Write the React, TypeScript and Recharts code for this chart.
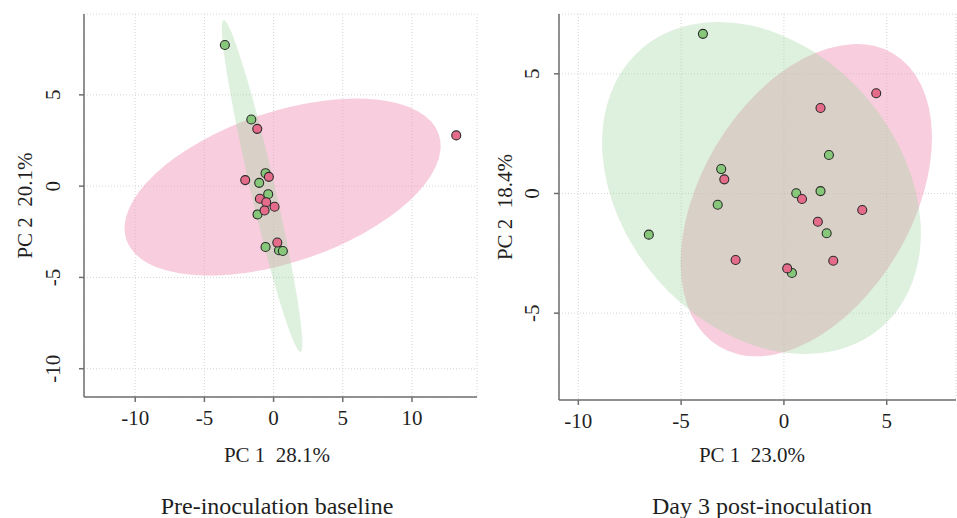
import React from "react";
import { CartesianGrid, Label, Scatter, ScatterChart, XAxis, YAxis } from "recharts";

// Two PCA score plots with 95% ellipses, drawn side by side.
const SERIF = '"Liberation Serif", "Times New Roman", serif';
const INK = "#1f1f1f";
const AXIS = "#6e6e6e";
const GRID = "#d4d4d4";
const PINK = "#e56b8a";
const GREEN = "#86c77a";
const PINK_FILL = "#f19bbb";
const GREEN_FILL = "#a3d5a3";

// --- Pre-inoculation baseline ---
const PRE_X_TICKS = [-10, -5, 0, 5, 10];
const PRE_Y_TICKS = [-10, -5, 0, 5];
const PRE_X_DOMAIN = [-13.7, 14.7];
const PRE_Y_DOMAIN = [-11.55, 9.43];
const PRE_GREEN_PC1 = [-3.52, -1.61, -0.58, -1.04, -0.39, -1.16, -0.58, 0.39, 0.67];
const PRE_GREEN_PC2 = [7.73, 3.65, 0.71, 0.18, -0.44, -1.55, -3.33, -3.51, -3.55];
const PRE_PINK_PC1 = [-1.18, 13.2, -0.34, -2.05, -0.99, -0.53, 0.07, -0.65, 0.27];
const PRE_PINK_PC2 = [3.14, 2.78, 0.51, 0.33, -0.69, -0.88, -1.13, -1.33, -3.09];
// ellipses: centre, end of one semi-axis, end of the other semi-axis
const PRE_GREEN_ELL_PC1 = [-0.83, -3.61, 0.03];
const PRE_GREEN_ELL_PC2 = [0.01, 9.1, 0.16];
const PRE_PINK_ELL_PC1 = [0.65, 11.94, 2.38];
const PRE_PINK_ELL_PC2 = [-0.05, 2.83, -3.95];

// --- Day 3 post-inoculation ---
const POST_X_TICKS = [-10, -5, 0, 5];
const POST_Y_TICKS = [-5, 0, 5];
const POST_X_DOMAIN = [-10.94, 8.37];
const POST_Y_DOMAIN = [-8.63, 7.5];
const POST_GREEN_PC1 = [-3.94, 2.19, -3.05, 0.6, 1.78, -3.22, 2.08, -6.57, 0.39];
const POST_GREEN_PC2 = [6.67, 1.61, 1.02, 0.01, 0.1, -0.47, -1.66, -1.72, -3.32];
const POST_PINK_PC1 = [4.49, 1.78, -2.9, 0.88, 3.81, 1.65, -2.35, 2.4, 0.16];
const POST_PINK_PC2 = [4.19, 3.57, 0.59, -0.23, -0.69, -1.18, -2.78, -2.81, -3.13];
const POST_GREEN_ELL_PC1 = [-1.09, 4.74, 4.02];
const POST_GREEN_ELL_PC2 = [0.23, -5.59, 4.01];
const POST_PINK_ELL_PC1 = [1.09, 5.31, 5.51];
const POST_PINK_ELL_PC2 = [-0.28, 5.85, -2.52];

const toPoints = (xs: number[], ys: number[]) => xs.map((x, i) => ({ x, y: ys[i] }));

// the three scaled points give centre + two conjugate semi-axes in pixels
function EllipseFill({ points, color, opacity }: any) {
  if (!points || points.length < 3 || points.some((p: any) => p.x == null || p.y == null)) {
    return null;
  }
  const [c, u, v] = points;
  return (
    <circle
      cx={0}
      cy={0}
      r={1}
      fill={color}
      fillOpacity={opacity}
      stroke="none"
      transform={`matrix(${u.x - c.x} ${u.y - c.y} ${v.x - c.x} ${v.y - c.y} ${c.x} ${c.y})`}
    />
  );
}

const dot = (color: string) => (p: any) =>
  <circle cx={p.cx} cy={p.cy} r={4.5} fill={color} stroke="#2b2b2b" strokeWidth={1.1} />;

const xTick = (p: any) => (
  <text x={p.x} y={p.y} dy="0.71em" textAnchor="middle" fontSize={21} fontFamily={SERIF} fill={INK}>
    {p.payload.value}
  </text>
);

const yTick = (p: any) => (
  <text
    x={0}
    y={0}
    transform={`translate(${p.x},${p.y}) rotate(-90)`}
    dy="0.35em"
    textAnchor="middle"
    fontSize={21}
    fontFamily={SERIF}
    fill={INK}
  >
    {p.payload.value}
  </text>
);

type PanelProps = {
  width: number;
  yAxisWidth: number;
  xAxisHeight: number;
  yTickMargin: number;
  xDomain: number[];
  yDomain: number[];
  xTicks: number[];
  yTicks: number[];
  green: { x: number; y: number }[];
  pink: { x: number; y: number }[];
  greenEllipse: { x: number; y: number }[];
  pinkEllipse: { x: number; y: number }[];
  xTitle: string;
  yTitle: string;
  title: string;
  xTitleX: number;
  yTitleX: number;
  titleX: number;
};

function Panel(props: PanelProps) {
  const textStyle = { fontFamily: SERIF, fill: INK, whiteSpace: "pre" as const };
  return (
    <ScatterChart width={props.width} height={518} margin={{ top: 14, right: 1, bottom: 0, left: 0 }}>
      <CartesianGrid stroke={GRID} strokeDasharray="1 2" />
      <XAxis
        type="number"
        dataKey="x"
        domain={props.xDomain}
        ticks={props.xTicks}
        allowDataOverflow
        height={props.xAxisHeight}
        stroke={AXIS}
        strokeWidth={1.5}
        tickSize={5}
        tickMargin={8}
        tick={xTick}
      >
        <Label
          content={() => (
            <g>
              <text x={props.xTitleX} y={462} textAnchor="middle" fontSize={21} style={textStyle}>
                {props.xTitle}
              </text>
              <text x={props.titleX} y={514} textAnchor="middle" fontSize={24} style={textStyle}>
                {props.title}
              </text>
            </g>
          )}
        />
      </XAxis>
      <YAxis
        type="number"
        dataKey="y"
        domain={props.yDomain}
        ticks={props.yTicks}
        allowDataOverflow
        width={props.yAxisWidth}
        stroke={AXIS}
        strokeWidth={1.5}
        tickSize={5}
        tickMargin={props.yTickMargin}
        tick={yTick}
      >
        <Label
          content={(lp: any) => {
            const vb = lp.viewBox || { y: 14, height: 383 };
            const cy = vb.y + vb.height / 2;
            return (
              <text
                x={0}
                y={0}
                transform={`translate(${props.yTitleX},${cy}) rotate(-90)`}
                dy="0.35em"
                textAnchor="middle"
                fontSize={21}
                style={textStyle}
              >
                {props.yTitle}
              </text>
            );
          }}
        />
      </YAxis>
      <Scatter
        data={props.pinkEllipse}
        isAnimationActive={false}
        shape={() => <g />}
        lineType="joint"
        line={(lp: any) => <EllipseFill points={lp.points} color={PINK_FILL} opacity={0.5} />}
      />
      <Scatter
        data={props.greenEllipse}
        isAnimationActive={false}
        shape={() => <g />}
        lineType="joint"
        line={(lp: any) => <EllipseFill points={lp.points} color={GREEN_FILL} opacity={0.36} />}
      />
      <Scatter data={props.green} isAnimationActive={false} shape={dot(GREEN)} />
      <Scatter data={props.pink} isAnimationActive={false} shape={dot(PINK)} />
    </ScatterChart>
  );
}

export default function App() {
  return (
    <div
      style={{
        position: "absolute",
        left: 0,
        top: 0,
        width: 957,
        height: 518,
        background: "#fff",
        display: "flex",
      }}
    >
      <Panel
        width={478}
        yAxisWidth={84}
        xAxisHeight={121}
        yTickMargin={26.5}
        xDomain={PRE_X_DOMAIN}
        yDomain={PRE_Y_DOMAIN}
        xTicks={PRE_X_TICKS}
        yTicks={PRE_Y_TICKS}
        green={toPoints(PRE_GREEN_PC1, PRE_GREEN_PC2)}
        pink={toPoints(PRE_PINK_PC1, PRE_PINK_PC2)}
        greenEllipse={toPoints(PRE_GREEN_ELL_PC1, PRE_GREEN_ELL_PC2)}
        pinkEllipse={toPoints(PRE_PINK_ELL_PC1, PRE_PINK_ELL_PC2)}
        xTitle="PC 1  28.1%"
        yTitle="PC 2  20.1%"
        title="Pre-inoculation baseline"
        xTitleX={277}
        yTitleX={25}
        titleX={277}
      />
      <Panel
        width={479}
        yAxisWidth={81}
        xAxisHeight={118}
        yTickMargin={22}
        xDomain={POST_X_DOMAIN}
        yDomain={POST_Y_DOMAIN}
        xTicks={POST_X_TICKS}
        yTicks={POST_Y_TICKS}
        green={toPoints(POST_GREEN_PC1, POST_GREEN_PC2)}
        pink={toPoints(POST_PINK_PC1, POST_PINK_PC2)}
        greenEllipse={toPoints(POST_GREEN_ELL_PC1, POST_GREEN_ELL_PC2)}
        pinkEllipse={toPoints(POST_PINK_ELL_PC1, POST_PINK_ELL_PC2)}
        xTitle="PC 1  23.0%"
        yTitle="PC 2  18.4%"
        title="Day 3 post-inoculation"
        xTitleX={274}
        yTitleX={27}
        titleX={284}
      />
    </div>
  );
}
